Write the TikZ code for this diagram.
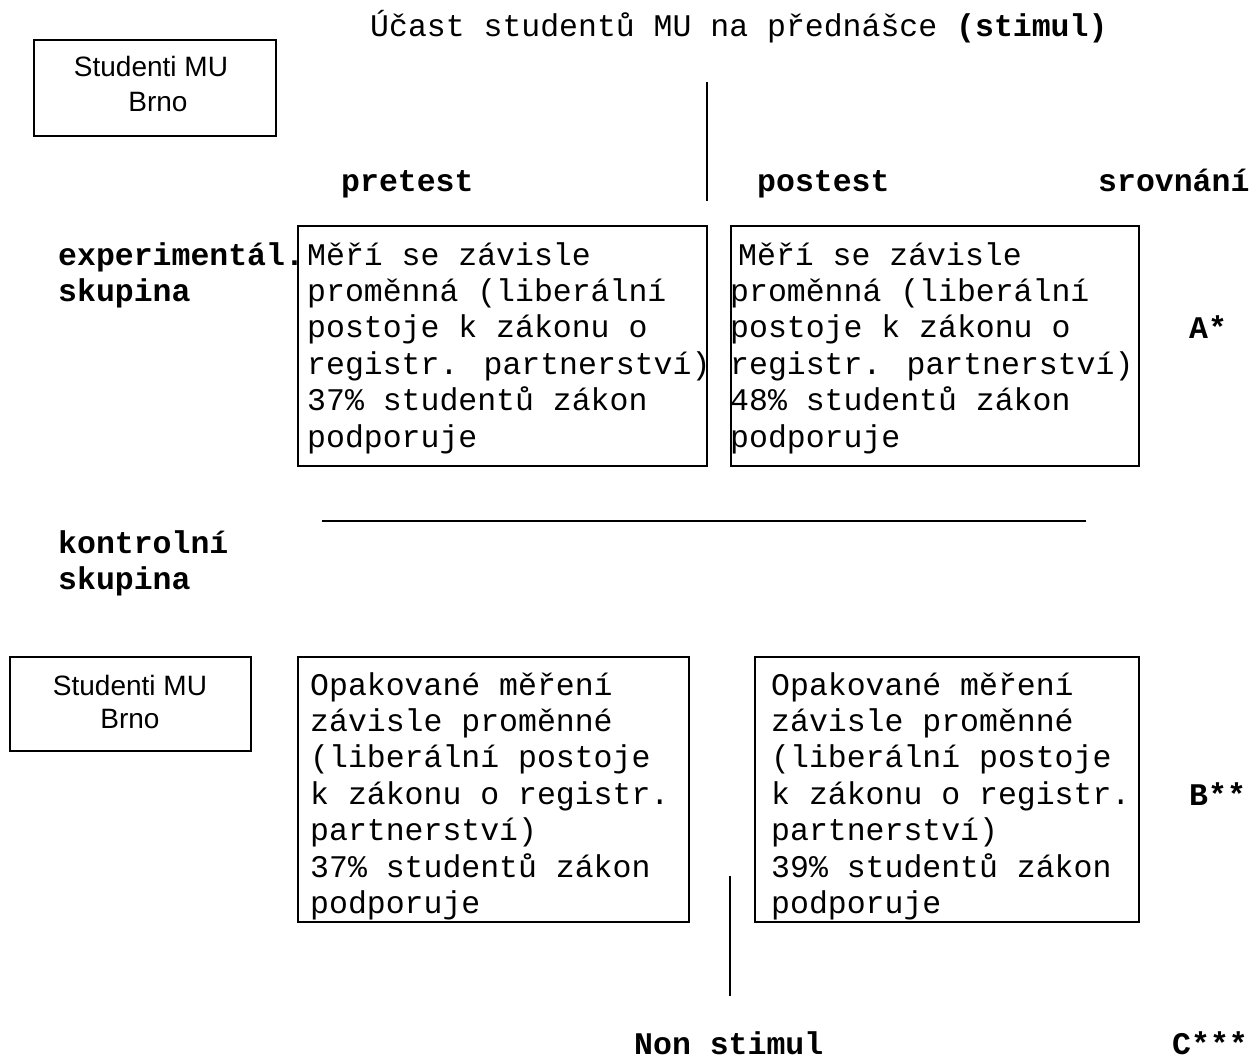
\documentclass[tikz,border=0pt]{standalone}
\usepackage{fontspec}
\newfontfamily\monof{Liberation Mono}
\newfontfamily\arialf{Liberation Sans}
\begin{document}
\begin{tikzpicture}[x=1pt,y=-1pt,
  mono/.style={font={\fontsize{31.5}{36.4}\selectfont\monof}, anchor=base west, inner sep=0pt, align=left},
  monob/.style={font={\fontsize{31.5}{36.4}\selectfont\monof\bfseries}, anchor=base west, inner sep=0pt, align=left},
  sans/.style={font={\fontsize{28}{34}\selectfont\arialf}, inner sep=0pt, align=center},
  frame/.style={draw=black, line width=1.6pt, anchor=north west, inner sep=0pt},
  rule/.style={draw=black, line width=1.3pt}]
\useasboundingbox[fill=white] (0,0) rectangle (1260,1059);

% title
\node[mono] (title) at (370,37) {Účast studentů MU na přednášce {\bfseries (stimul)}};

% top Studenti box
\node[frame, minimum width=242pt, minimum height=96pt] (s1) at (33,39) {};
\node[sans, anchor=base] (s1a) at (151,77) {Studenti MU};
\node[sans, anchor=base] (s1b) at (158,112) {Brno};

% column labels
\node[monob] (pre) at (341,192) {pretest};
\node[monob] (post) at (757,192) {postest};
\node[monob] (srov) at (1098,192) {srovnání};

% vertical separator top
\coordinate (v1a) at (707,82);
\coordinate (v1b) at (707,201);
\draw[rule] (v1a) -- (v1b);

% group labels (base anchor = last line baseline)
\node[monob] (exp) at (58,301.4) {experimentál.\\skupina};
\node[monob] (kon) at (58,589.4) {kontrolní\\skupina};

% experimental boxes
\node[frame, minimum width=409pt, minimum height=240pt] (b1) at (297,225) {};
\node[mono] (t1) at (307,447) {Měří se závisle\\proměnná (liberální\\postoje k zákonu o\\registr. partnerství)\\37\% studentů zákon\\podporuje};
\node[frame, minimum width=408pt, minimum height=240pt] (b2) at (730,225) {};
\node[mono] (t2) at (730,447) {\hspace*{8pt}Měří se závisle\\proměnná (liberální\\postoje k zákonu o\\registr. partnerství)\\48\% studentů zákon\\podporuje};
\node[monob] (A) at (1189,338) {A*};

% horizontal separator
\coordinate (h1a) at (322,521);
\coordinate (h1b) at (1086,521);
\draw[rule] (h1a) -- (h1b);

% lower Studenti box
\node[frame, minimum width=241pt, minimum height=94pt] (s2) at (9,656) {};
\node[sans, anchor=base] (s2a) at (130,695) {Studenti MU};
\node[sans, anchor=base] (s2b) at (130,728) {Brno};

% control boxes
\node[frame, minimum width=391pt, minimum height=265pt] (b3) at (297,656) {};
\node[mono] (t3) at (310,913.4) {Opakované měření\\závisle proměnné\\(liberální postoje\\k zákonu o registr.\\partnerství)\\37\% studentů zákon\\podporuje};
\node[frame, minimum width=384pt, minimum height=265pt] (b4) at (754,656) {};
\node[mono] (t4) at (771,913.4) {Opakované měření\\závisle proměnné\\(liberální postoje\\k zákonu o registr.\\partnerství)\\39\% studentů zákon\\podporuje};
\node[monob] (B) at (1189,805) {B**};

% bottom vertical separator
\coordinate (v2a) at (730,876);
\coordinate (v2b) at (730,996);
\draw[rule] (v2a) -- (v2b);

\node[monob, text depth=0pt] (non) at (634,1054) {Non stimul};
\node[monob, text depth=0pt] (C) at (1172,1054) {C***};
\end{tikzpicture}
\end{document}
